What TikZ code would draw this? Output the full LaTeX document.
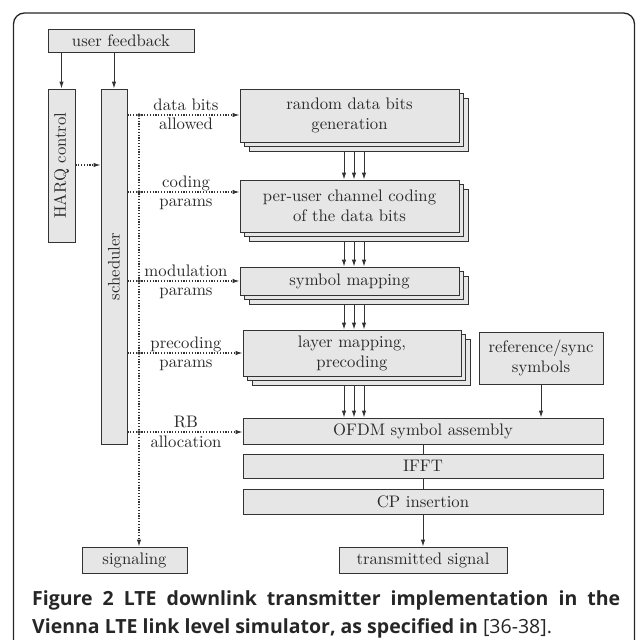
\documentclass[tikz,border=0pt]{standalone}
\usepackage{fontspec}
\setmainfont{lmroman10-regular.otf}
\setsansfont{Open Sans}
\usetikzlibrary{arrows.meta,shadows,calc}
\definecolor{boxfill}{HTML}{E6E6E6}
\definecolor{edge}{HTML}{333333}
\definecolor{txt}{HTML}{2A2A2A}
\begin{document}
\begin{tikzpicture}[x=1pt,y=-1pt,
  every node/.style={font=\fontsize{16.7}{20}\selectfont, text=txt},
  blk/.style={draw=edge, fill=boxfill, line width=0.9pt, inner sep=0pt, align=center},
  stk/.style={blk, copy shadow={shadow xshift=9pt,shadow yshift=-9pt}, copy shadow={shadow xshift=4.5pt,shadow yshift=-4.5pt}},
  arr/.style={-{Latex[length=7pt,width=4.5pt]}, line width=1pt, draw=edge},
  plain/.style={line width=1pt, draw=edge},
  darr/.style={-{Latex[length=7pt,width=4.5pt]}, line width=1.1pt, draw=edge, dash pattern=on 1.2pt off 1.6pt},
  lbl/.style={anchor=base, inner sep=0pt},
]
\useasboundingbox (0,0) rectangle (636,640);
% frame
\draw[line width=1.3pt, draw=black!85, rounded corners=11pt] (13.5,642) -- (13.5,13) -- (634.5,13) -- (634.5,642);

% left column
\node[blk, minimum width=146pt, minimum height=23pt] (uf) at (121,40.5) {user feedback};
\node[blk, rotate=90, minimum width=153pt, minimum height=27pt] (harq) at (61.5,165.5) {HARQ control};
\node[blk, rotate=90, minimum width=355pt, minimum height=26pt] (sched) at (114,266.5) {scheduler};
\node[blk, minimum width=105pt, minimum height=26pt] (sig) at (134.5,560) {signaling};

% processing chain
\node[stk, minimum width=219pt, minimum height=53pt] (rnd) at (349.5,115.5) {random data bits\\generation};
\node[stk, minimum width=219pt, minimum height=52pt] (cod) at (349.5,206) {per-user channel coding\\of the data bits};
\node[stk, minimum width=219pt, minimum height=28pt] (sym) at (349.5,281) {symbol mapping};
\node[stk, minimum width=218pt, minimum height=46pt] (lay) at (352,353) {layer mapping,\\precoding};
\node[blk, minimum width=124pt, minimum height=52pt] (refs) at (541,358) {reference/sync\\symbols};
\node[blk, minimum width=360pt, minimum height=26pt] (ofdm) at (423,431) {OFDM symbol assembly};
\node[blk, minimum width=360pt, minimum height=24pt] (ifft) at (423,466) {IFFT};
\node[blk, minimum width=360pt, minimum height=25pt] (cp) at (423,501.5) {CP insertion};
\node[blk, minimum width=168pt, minimum height=26pt] (tx) at (423,560) {transmitted signal};

% solid arrows from user feedback (rotated nodes: east = top edge)
\draw[arr] (uf.south -| harq.east) -- (harq.east);
\draw[arr] (uf.south -| sched.east) -- (sched.east);
% HARQ -> scheduler (rotated nodes: south = right edge, north = left edge)
\coordinate (hy) at (0,165);
\draw[darr] (harq.south |- hy) -- (sched.north |- hy);

% control bus
\coordinate (bus) at (139,115);
\coordinate (y1) at (0,115);
\coordinate (y2) at (0,192);
\coordinate (y3) at (0,281);
\coordinate (y4) at (0,353);
\coordinate (y5) at (0,432);
\draw[darr] (bus) -- (bus |- sig.north);
\foreach \c/\n in {y1/rnd,y2/cod,y3/sym,y4/lay,y5/ofdm}{
  \draw[darr] (sched.south |- \c) -- (\n.west |- \c);
  \fill[edge] (bus |- \c) circle (1.9pt);
}
\node[lbl] at (186,110) {data bits};
\node[lbl] at (186,129) {allowed};
\node[lbl] at (186,187) {coding};
\node[lbl] at (186,206) {params};
\node[lbl] at (186,276) {modulation};
\node[lbl] at (186,295) {params};
\node[lbl] at (186,348) {precoding};
\node[lbl] at (186,367) {params};
\node[lbl] at (186,427) {RB};
\node[lbl] at (186,447) {allocation};

% triple arrows
\coordinate (ax) at (354,0);
\foreach \a/\b in {rnd/cod,cod/sym,sym/lay,lay/ofdm}{
  \foreach \dx in {-10,0,10}{
    \draw[arr] ($(ax |- \a.south)+(\dx,9)$) -- ($(ax |- \b.north)+(\dx,0)$);
  }
}
\draw[arr] (refs.south) -- (refs.south |- ofdm.north);
\draw[plain] (ofdm.south) -- (ifft.north);
\draw[plain] (ifft.south) -- (cp.north);
\draw[arr] (cp.south) -- (tx.north);

% caption
\node[anchor=base west, inner sep=0pt, text=black!85, font=\sffamily\fontsize{19.5}{24}\selectfont] (cap1) at (32,605)
  {\makebox[588pt][s]{\bfseries Figure 2 LTE downlink transmitter implementation in the}};
\node[anchor=base west, inner sep=0pt, text=black!85, font=\sffamily\fontsize{19.5}{24}\selectfont] (cap2) at (32,633)
  {\textbf{Vienna LTE link level simulator, as specified in} [36-38].};
\end{tikzpicture}
\end{document}
